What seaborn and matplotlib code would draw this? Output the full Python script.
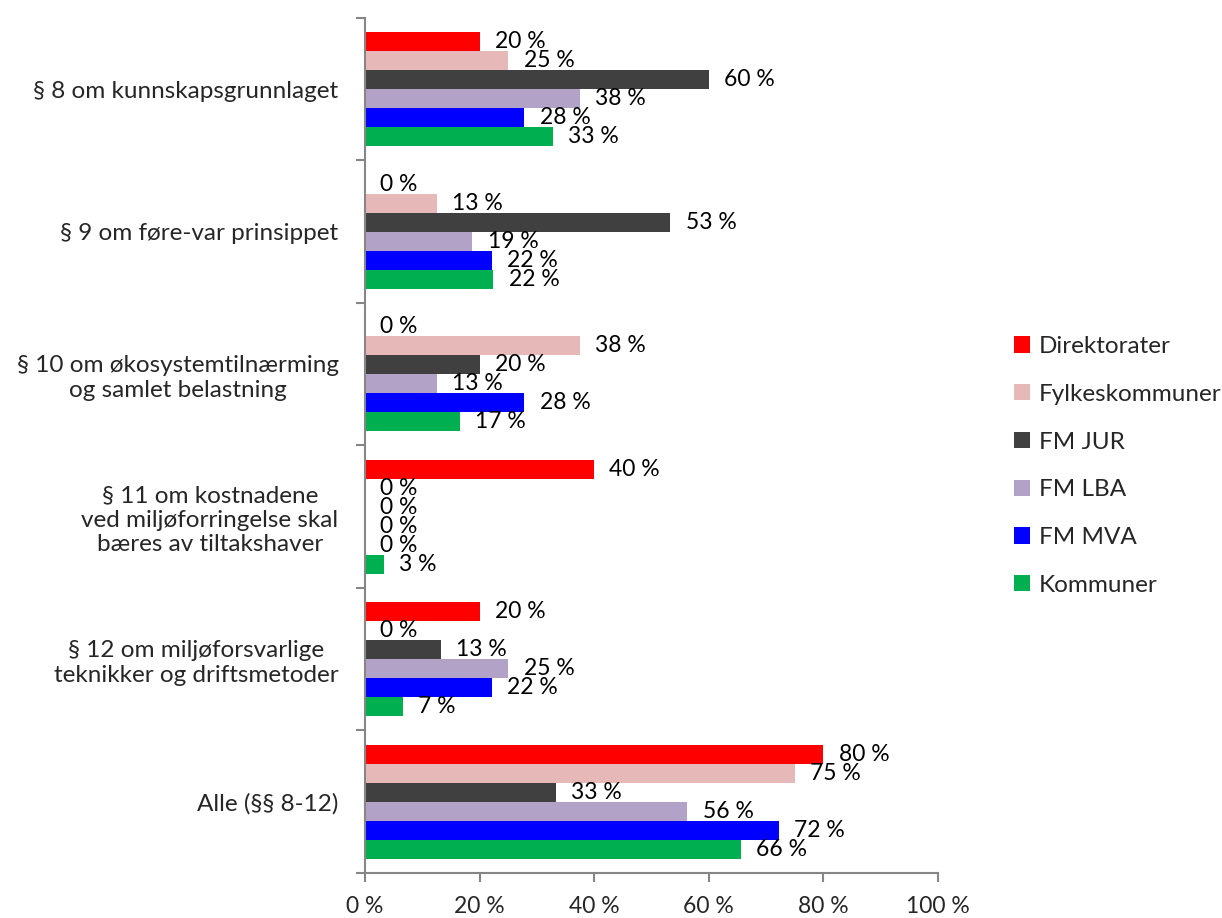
import numpy as np
import pandas as pd
import matplotlib
matplotlib.use("Agg")
import matplotlib.pyplot as plt
import seaborn as sns
from matplotlib.ticker import FixedLocator

categories = [
    "§ 8 om kunnskapsgrunnlaget",
    "§ 9 om føre-var prinsippet",
    "§ 10 om økosystemtilnærming\nog samlet belastning",
    "§ 11 om kostnadene\nved miljøforringelse skal\nbæres av tiltakshaver",
    "§ 12 om miljøforsvarlige\nteknikker og driftsmetoder",
    "Alle (§§ 8-12)",
]
series = ["Direktorater", "Fylkeskommuner", "FM JUR", "FM LBA", "FM MVA", "Kommuner"]
colors = ["#FF0000", "#E6B9B8", "#404040", "#B3A2C7", "#0000FF", "#00B050"]

# percent per series, in category order
direktorater = [20.0, 0.0, 0.0, 40.0, 20.0, 80.0]
fylkeskommuner = [25.0, 12.5, 37.5, 0.0, 0.0, 75.0]
fm_jur = [60.0, 53.3, 20.0, 0.0, 13.3, 33.3]
fm_lba = [37.5, 18.75, 12.5, 0.0, 25.0, 56.25]
fm_mva = [27.8, 22.2, 27.8, 0.0, 22.2, 72.2]
kommuner = [32.8, 22.4, 16.6, 3.3, 6.6, 65.6]
values = [direktorater, fylkeskommuner, fm_jur, fm_lba, fm_mva, kommuner]

xticks = [0, 20, 40, 60, 80, 100]

rows = []
for s, vals in zip(series, values):
    for c, v in zip(categories, vals):
        rows.append({"kategori": c, "gruppe": s, "andel": v})
df = pd.DataFrame(rows)

sns.set_style("white")
plt.rcParams["font.family"] = ["Lato", "DejaVu Sans"]
axis_grey = "#868686"

fig = plt.figure(figsize=(12.22, 9.18), dpi=100)
ax = fig.add_axes([0.2987, 0.049, 0.4689, 0.9315])

sns.barplot(data=df, y="kategori", x="andel", hue="gruppe", order=categories,
            hue_order=series, palette=colors, orient="h", width=0.8,
            saturation=1, legend=True, ax=ax, errorbar=None, linewidth=0)

for cont, vals in zip(ax.containers, values):
    labels = [f"{int(np.floor(v + 0.5))} %" for v in vals]
    ax.bar_label(cont, labels=labels, padding=11, fontsize=16.5, color="black")

ax.set_xlim(0, 100)
ax.set_xticks(xticks)
ax.set_xticklabels([f"{t} %" for t in xticks], fontsize=16.5)
ax.set_ylim(len(categories) - 0.5, -0.5)

# labels at centers, tick marks at group boundaries
ax.yaxis.set_major_locator(FixedLocator(np.arange(-0.5, len(categories), 1.0)))
ax.yaxis.set_major_formatter(plt.NullFormatter())
ax.yaxis.set_minor_locator(FixedLocator(np.arange(len(categories))))
ax.set_yticklabels(categories, minor=True, fontsize=17.5, multialignment="center")
ax.tick_params(axis="y", which="minor", left=True, length=0, pad=19)
ax.tick_params(axis="y", which="major", left=True, length=6.5, width=1.5,
               color=axis_grey, direction="out")
ax.tick_params(axis="x", bottom=True, length=6.5, width=1.5, color=axis_grey,
               direction="out", pad=10)

ax.set_xlabel("")
ax.set_ylabel("")
for side in ["top", "right"]:
    ax.spines[side].set_visible(False)
for side in ["left", "bottom"]:
    ax.spines[side].set_color(axis_grey)
    ax.spines[side].set_linewidth(1.5)

handles, labs = ax.get_legend_handles_labels()
ax.legend(handles, labs, loc="center left", bbox_to_anchor=(1.095, 0.476), frameon=False,
          fontsize=17.5, handlelength=0.65, handleheight=0.65, handletextpad=0.35,
          labelspacing=1.1)

fig.savefig("out.png", dpi=100)
plt.close(fig)
